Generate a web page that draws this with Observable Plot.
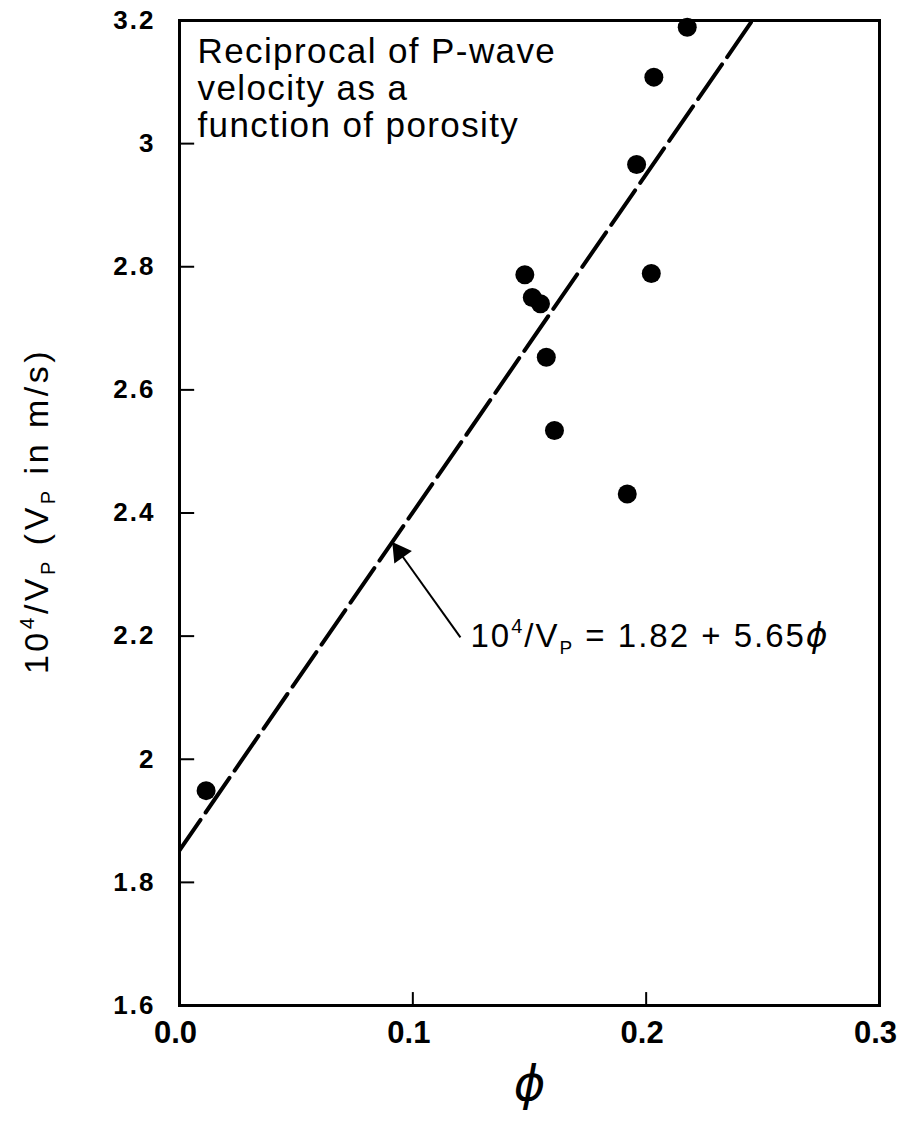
<!DOCTYPE html>
<html>
<head>
<meta charset="utf-8">
<script src="https://cdn.jsdelivr.net/npm/d3@7"></script>
<script src="https://cdn.jsdelivr.net/npm/@observablehq/plot@0.6"></script>
<style>
  html, body { margin: 0; padding: 0; background: #fff; }
  #chart { width: 898px; height: 1125px; }
</style>
</head>
<body>
<div id="chart"></div>
<script>
// ---- data ----
const porosity = [0.0114, 0.148, 0.1512, 0.1547, 0.1572, 0.1607, 0.1919, 0.1959, 0.2022, 0.2033, 0.2176];
const recipVp  = [1.949, 2.787, 2.750, 2.740, 2.653, 2.534, 2.431, 2.966, 2.789, 3.108, 3.189];

// fitted line as drawn (endpoints)
const fitPhi = [0, 0.2455];
const fitVal = [1.852, 3.2];

// arrow: tail (near equation) -> tip (on line)
const arrowPhi = [0.1204, 0.0917];
const arrowVal = [2.198, 2.350];

const xTicks = [0, 0.1, 0.2, 0.3];
const xTickLabels = ["0.0", "0.1", "0.2", "0.3"];
const yTicks = [1.6, 1.8, 2.0, 2.2, 2.4, 2.6, 2.8, 3.0, 3.2];
const yTickLabels = ["1.6", "1.8", "2", "2.2", "2.4", "2.6", "2.8", "3", "3.2"];
const xInnerTicks = [0.1, 0.2];
const yInnerTicks = [1.8, 2.0, 2.2, 2.4, 2.6, 2.8, 3.0];

const titleText = "Reciprocal of P-wave\nvelocity as a\nfunction of porosity";
const eqText = "10^4/V_P = 1.82 + 5.65ϕ";
const yLabelText = "10^4/V_P (V_P in m/s)";
const xLabelText = "ϕ";

// ---- build tables ----
const points = porosity.map((p, i) => ({phi: p, v: recipVp[i]}));
const fit = fitPhi.map((p, i) => ({phi: p, v: fitVal[i]}));
const arrow = [{x1: arrowPhi[0], y1: arrowVal[0], x2: arrowPhi[1], y2: arrowVal[1]}];
// arrowhead placed slightly back from the tip along the arrow
const headFrac = 0.09;
const head = [{
  phi: arrowPhi[1] + headFrac * (arrowPhi[0] - arrowPhi[1]),
  v: arrowVal[1] + headFrac * (arrowVal[0] - arrowVal[1])
}];

const font = "'Liberation Sans', Arial, Helvetica, sans-serif";

const plot = Plot.plot({
  width: 898,
  height: 1125,
  marginLeft: 179,
  marginRight: 19,
  marginTop: 20,
  marginBottom: 120,
  style: {fontFamily: font, background: "white", color: "black", overflow: "visible"},
  x: {domain: [0, 0.3], axis: null},
  y: {domain: [1.6, 3.2], axis: null},
  marks: [
    Plot.frame({stroke: "black", strokeWidth: 3}),
    // inward ticks
    Plot.ruleY(yInnerTicks, {y: d => d, x1: 0, x2: 0.0065, stroke: "black", strokeWidth: 2}),
    Plot.ruleX(xInnerTicks, {x: d => d, y1: 1.6, y2: 1.621, stroke: "black", strokeWidth: 2}),
    // tick labels
    Plot.text(yTicks, {y: d => d, frameAnchor: "left", dx: -24, textAnchor: "end",
      text: (d, i) => yTickLabels[i], fontSize: 26, fontWeight: "bold", fill: "black"}),
    Plot.text(xTicks, {x: d => d, frameAnchor: "bottom", dy: 37, dx: -4, textAnchor: "middle",
      text: (d, i) => xTickLabels[i], fontSize: 31, fontWeight: "bold", fill: "black"}),
    // fitted dashed line
    Plot.line(fit, {x: "phi", y: "v", stroke: "black", strokeWidth: 4,
      strokeDasharray: "42,9", strokeDashoffset: 5, clip: true}),
    // data points
    Plot.dot(points, {x: "phi", y: "v", r: 9.5, fill: "black", stroke: "none"}),
    // arrow
    Plot.link(arrow, {x1: "x1", y1: "y1", x2: "x2", y2: "y2", stroke: "black", strokeWidth: 2}),
    Plot.dot(head, {x: "phi", y: "v", symbol: "triangle", r: 8, rotate: -35.5, fill: "black", stroke: "none"}),
    // equation
    Plot.text([eqText], {x: () => 0.1247, y: () => 2.199, text: d => d, textAnchor: "start",
      lineAnchor: "middle", fontSize: 33, fill: "black"}),
    // title block
    Plot.text([titleText], {frameAnchor: "top-left", dx: 18, dy: 16, lineAnchor: "top",
      textAnchor: "start", text: d => d, fontSize: 35, lineHeight: 1.06, fill: "black"}),
    // y label
    Plot.text([yLabelText], {frameAnchor: "left", dx: -142, dy: -2, rotate: -90, textAnchor: "middle",
      lineAnchor: "middle", text: d => d, fontSize: 34, fill: "black"}),
    // x label
    Plot.text([xLabelText], {frameAnchor: "bottom", dy: 94, textAnchor: "middle", text: d => d,
      fontSize: 48, fontStyle: "italic", fontFamily: "'DejaVu Sans', sans-serif", fill: "black"})
  ]
});

document.getElementById("chart").appendChild(plot);

// letter spacing per text block
function spacing(str, ls) {
  d3.select(plot).selectAll("text").filter(function() { return this.textContent === str; })
    .attr("letter-spacing", ls);
}

// rich text: superscripts / subscripts
function richify(str, segments, baseSize) {
  d3.select(plot).selectAll("text").filter(function() { return this.textContent === str; })
    .each(function() {
      const t = d3.select(this);
      t.text(null);
      let shift = 0;
      segments.forEach(s => {
        const span = t.append("tspan").text(s.t);
        let target = 0;
        if (s.sup) { target = -0.42 * baseSize; span.attr("font-size", Math.round(baseSize * 0.62)); }
        else if (s.sub) { target = 0.2 * baseSize; span.attr("font-size", Math.round(baseSize * 0.58)); }
        if (target !== shift) { span.attr("dy", target - shift); shift = target; }
        if (s.italic) span.attr("font-style", "italic").attr("font-family", "'DejaVu Sans', sans-serif");
      });
    });
}
spacing(eqText, 2);
spacing(yLabelText, 3.5);
d3.select(plot).selectAll("text").filter(function() { return this.textContent.startsWith("Reciprocal"); })
  .attr("letter-spacing", 1.4);
yTickLabels.forEach(s => spacing(s, 2));

richify(eqText, [
  {t: "10"}, {t: "4", sup: true}, {t: "/V"}, {t: "P", sub: true}, {t: " = 1.82 + 5.65"}, {t: "ϕ", italic: true}
], 33);
richify(yLabelText, [
  {t: "10"}, {t: "4", sup: true}, {t: "/V"}, {t: "P", sub: true}, {t: " (V"}, {t: "P", sub: true}, {t: " in m/s)"}
], 34);
</script>
</body>
</html>
